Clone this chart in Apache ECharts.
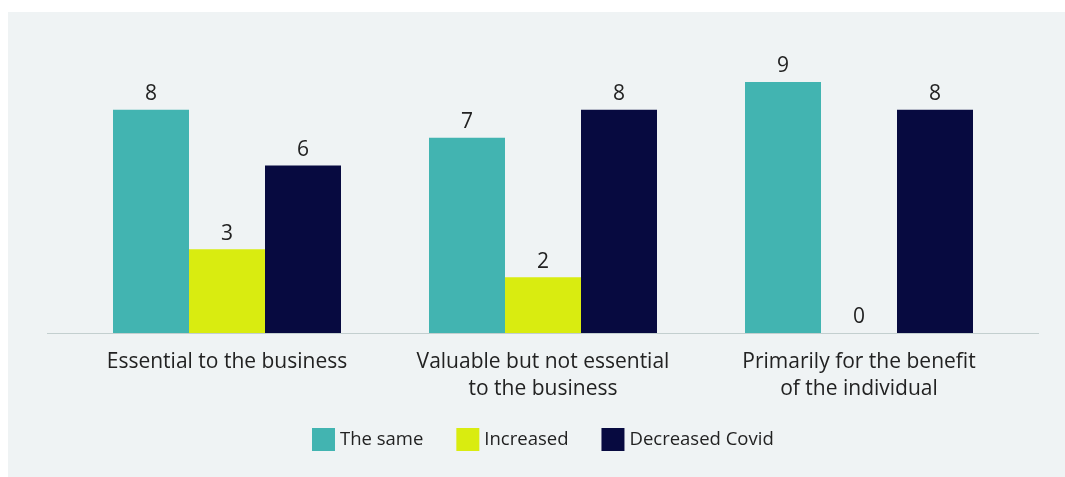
<!DOCTYPE html>
<html>
<head>
<meta charset="utf-8">
<script src="https://cdn.jsdelivr.net/npm/echarts@6/dist/echarts.min.js"></script>
<style>html,body{margin:0;padding:0;background:#fff}#c{width:1065px;height:477px}</style>
</head>
<body>
<div id="c"></div>
<script>
var categories = ["Essential to the business", "Valuable but not essential\nto the business", "Primarily for the benefit\nof the individual"];
var seriesNames = ["The same", "Increased", "Decreased Covid"];
var theSame = [8, 7, 9];
var increased = [3, 2, 0];
var decreasedCovid = [6, 8, 8];
var colors = ["#42b4b1", "#d9ec10", "#070a40"];

var chart = echarts.init(document.getElementById('c'));
var font = "Open Sans";
function mk(name, data, color) {
  return {
    name: name, type: 'bar', data: data, barWidth: 76, barGap: '0%',
    itemStyle: { color: color },
    label: { show: true, position: 'top', distance: 5, color: '#222', fontSize: 21, fontFamily: font }
  };
}
chart.setOption({
  backgroundColor: '#ffffff',
  animation: false,
  graphic: [
    { type: 'rect', z: -100, silent: true, shape: { x: 8, y: 12, width: 1057, height: 465 }, style: { fill: '#eff3f4' } },
    { type: 'line', z: 100, silent: true, shape: { x1: 47, y1: 333.5, x2: 1039, y2: 333.5 }, style: { stroke: '#c3cfcf', lineWidth: 1 } }
  ],
  grid: { left: 69, right: 48, top: 54, bottom: 144, containLabel: false },
  legend: {
    data: seriesNames, top: 428, left: 312, padding: 0, icon: 'rect', itemWidth: 23, itemHeight: 23, itemGap: 33,
    textStyle: { fontSize: 18.5, color: '#222', fontFamily: font }
  },
  xAxis: {
    type: 'category', data: categories,
    axisLine: { show: false }, axisTick: { show: false },
    axisLabel: { color: '#222', fontSize: 21, fontFamily: font, lineHeight: 27, margin: 16, interval: 0 }
  },
  yAxis: { type: 'value', min: 0, max: 10, show: false, splitLine: { show: false } },
  series: [mk(seriesNames[0], theSame, colors[0]), mk(seriesNames[1], increased, colors[1]), mk(seriesNames[2], decreasedCovid, colors[2])]
});
</script>
</body>
</html>
